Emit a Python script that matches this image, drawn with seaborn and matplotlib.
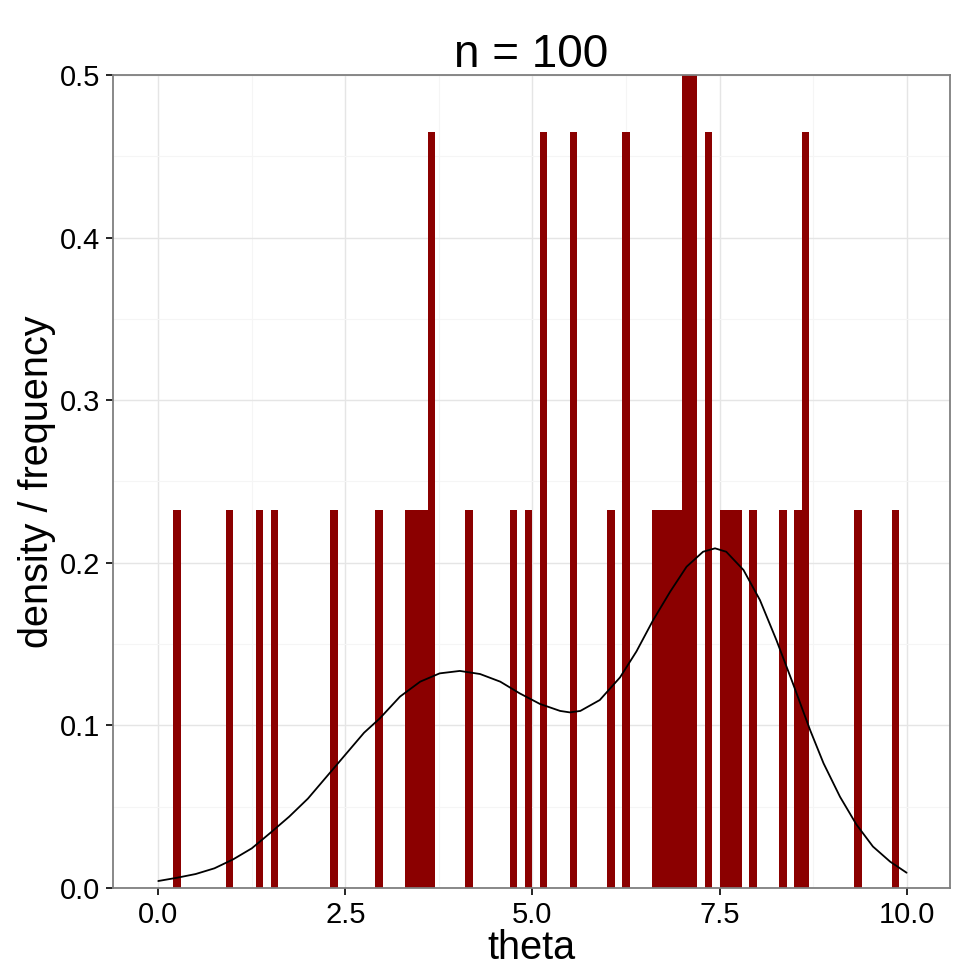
import numpy as np
import matplotlib
matplotlib.use("Agg")
import matplotlib.pyplot as plt
import seaborn as sns
from matplotlib.ticker import MultipleLocator

# histogram data: bin centres (bin width 0.1) and how many draws fell in each
theta_bins = [0.25, 0.95, 1.35, 1.55, 2.35, 2.95, 3.35, 3.45, 3.55, 3.65,
              4.15, 4.75, 4.95, 5.15, 5.55, 6.05, 6.25, 6.65, 6.75, 6.85,
              6.95, 7.05, 7.15, 7.35, 7.55, 7.65, 7.75, 7.95, 8.35, 8.55,
              8.65, 9.35, 9.85]
bin_counts = [1, 1, 1, 1, 1, 1, 1, 1, 1, 2,
              1, 1, 1, 2, 2, 1, 2, 1, 1, 1,
              1, 3, 3, 2, 1, 1, 1, 1, 1, 1,
              2, 1, 1]

# density curve
curve_x = [0.0, 0.25, 0.5, 0.75, 1.0, 1.25, 1.5, 1.75, 2.0, 2.25, 2.5, 2.75,
           2.96, 3.23, 3.50, 3.76, 4.03, 4.30, 4.57, 4.83, 5.10, 5.37, 5.50,
           5.64, 5.90, 6.17, 6.39, 6.61, 6.84, 7.06, 7.28, 7.44, 7.59, 7.82,
           8.04, 8.26, 8.48, 8.71, 8.89, 9.11, 9.33, 9.55, 9.78, 10.0]
curve_y = [0.0043, 0.0063, 0.0086, 0.0121, 0.0176, 0.0244, 0.034, 0.0439,
           0.055, 0.0685, 0.082, 0.0955, 0.1043, 0.1177, 0.1269, 0.132,
           0.1335, 0.1316, 0.1269, 0.1197, 0.1132, 0.1089, 0.108, 0.1089,
           0.1156, 0.1295, 0.1455, 0.1645, 0.1822, 0.1976, 0.2068, 0.2089,
           0.2068, 0.1956, 0.1771, 0.1525, 0.1259, 0.0972, 0.0767, 0.0561,
           0.039, 0.0255, 0.0162, 0.0094]

x_ticks = [0.0, 2.5, 5.0, 7.5, 10.0]
y_ticks = [0.0, 0.1, 0.2, 0.3, 0.4, 0.5]

sns.set_style("white")
plt.rcParams["font.family"] = ["Liberation Sans", "DejaVu Sans"]
plt.rcParams["text.color"] = "black"
plt.rcParams["axes.labelcolor"] = "black"
plt.rcParams["xtick.color"] = "black"
plt.rcParams["ytick.color"] = "black"

fig = plt.figure(figsize=(9.8, 9.8), dpi=100)
ax = fig.add_axes([113 / 980, 1 - 888 / 980, (950 - 113) / 980, (888 - 75) / 980])

# histogram
sns.histplot(x=theta_bins, weights=bin_counts, stat="density", binwidth=0.1,
             binrange=(0, 10), color="#8b0000", alpha=1, edgecolor="none",
             linewidth=0, ax=ax, zorder=2)

# density curve
sns.lineplot(x=curve_x, y=curve_y, color="black", linewidth=1.3, ax=ax, zorder=3)

ax.set_xlim(-0.605, 10.58)
ax.set_ylim(0, 0.5)
ax.set_xticks(x_ticks)
ax.set_xticklabels([f"{t:.1f}" for t in x_ticks])
ax.set_yticks(y_ticks)
ax.set_yticklabels([f"{t:.1f}" for t in y_ticks])
ax.xaxis.set_minor_locator(MultipleLocator(1.25))
ax.yaxis.set_minor_locator(MultipleLocator(0.05))

# grid like theme_bw
ax.set_axisbelow(True)
ax.grid(which="major", color="#e5e5e5", linewidth=1.0, zorder=0)
ax.grid(which="minor", color="#f5f5f5", linewidth=0.8, zorder=0)

for s in ax.spines.values():
    s.set_color("#7f7f7f")
    s.set_linewidth(1.3)

ax.tick_params(which="major", direction="out", length=5, width=1.2, color="black",
               labelcolor="black", labelsize=21, pad=4, left=True, bottom=True)
ax.tick_params(which="minor", length=0)

ax.set_xlabel("theta", fontsize=28.5, labelpad=0)
ax.set_ylabel("density / frequency", fontsize=28.5, labelpad=3)
ax.set_title("n = 100", fontsize=33, pad=6)

fig.savefig("out.png", dpi=100)
